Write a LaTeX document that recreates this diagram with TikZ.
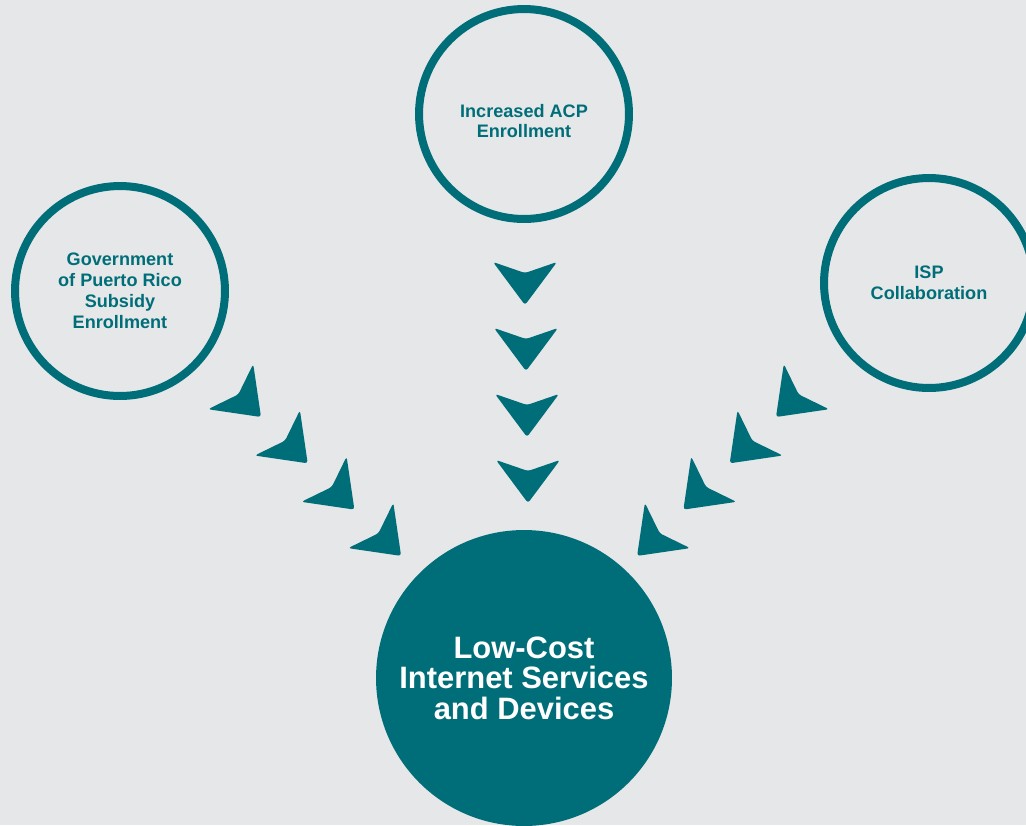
\documentclass[tikz,border=0pt]{standalone}
\usepackage{fontspec}
\setmainfont{Liberation Sans}

\definecolor{brandteal}{HTML}{006E78}
\definecolor{paper}{HTML}{E6E7E9}

\tikzset{
  ring/.style={circle, draw=brandteal, line width=0.16cm, minimum size=4.2cm, inner sep=0pt},
  ringtext/.style={text=brandteal, align=center, font=\bfseries\fontsize{10.3}{11.9}\selectfont},
  hub/.style={circle, fill=brandteal, minimum size=5.92cm, inner sep=0pt,
    text=white, align=center, font=\bfseries\fontsize{17.6}{17.4}\selectfont},
  % arrow head, tip at the origin, pointing down
  chevron/.pic={
    \fill[brandteal, rounded corners=1.6pt] (0,-32) -- (-32,-43) -- (0,0) -- (32,-43) -- cycle;
  }
}

\begin{document}
\begin{tikzpicture}[x=0.02cm, y=-0.02cm]
  \fill[paper] (0,0) rectangle (1026,825);
  \useasboundingbox (0,0) rectangle (1026,825);

  % sources
  \node[ring] (acp) at (524,114) {};
  \node[ringtext] (acptext) at (524,121) {Increased ACP\\Enrollment};
  \node[ring, ringtext] (gov) at (120,291) {Government\\of Puerto Rico\\Subsidy\\Enrollment};
  \node[ring, ringtext] (isp) at (929,283) {ISP\\Collaboration};

  % result
  \node[hub] (lowcost) at (524,678) {Low-Cost\\Internet Services\\and Devices};

  % arrow heads running into the result
  \foreach \i in {0,...,3} {
    \pic at (525+\i, 305+66*\i) {chevron};
    \pic[rotate=45] at (261+46.7*\i, 417+46.3*\i) {chevron};
    \pic[rotate=-45] at (776-46.3*\i, 417+46.3*\i) {chevron};
  }
\end{tikzpicture}
\end{document}
